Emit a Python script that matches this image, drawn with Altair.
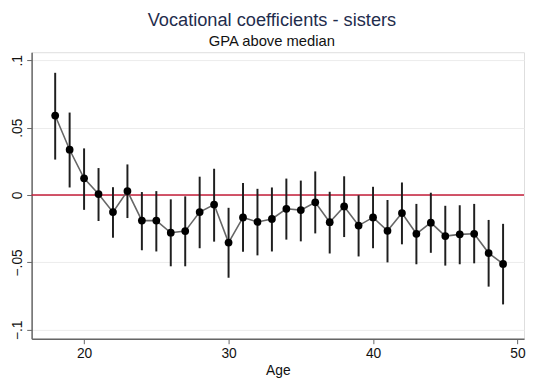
import altair as alt
import pandas as pd

age = list(range(18, 50))
coef = [0.059, 0.0336, 0.0124, 0.0007, -0.0127, 0.0029, -0.019, -0.019, -0.028, -0.0268,
        -0.0127, -0.0071, -0.0353, -0.0166, -0.020, -0.0178, -0.0102, -0.0112, -0.0054, -0.0202,
        -0.0085, -0.0227, -0.0166, -0.0266, -0.0134, -0.0288, -0.0205, -0.0305, -0.0292, -0.0288,
        -0.0431, -0.0512]
ci_hi = [0.0907, 0.0612, 0.0346, 0.0200, 0.0058, 0.0227, 0.0022, 0.0029, -0.0032, -0.0010,
         0.0136, 0.0195, -0.0095, 0.0090, 0.0046, 0.0056, 0.0122, 0.0107, 0.0175, 0.0024,
         0.0139, -0.0002, 0.0061, -0.0037, 0.0093, -0.0066, 0.0017, -0.0080, -0.0076, -0.0066,
         -0.0185, -0.0214]
ci_lo = [0.0263, 0.0056, -0.0110, -0.0193, -0.0317, -0.0171, -0.0410, -0.0419, -0.0529, -0.0529,
         -0.0395, -0.0346, -0.0614, -0.0422, -0.0448, -0.0419, -0.0331, -0.0344, -0.0285, -0.0434,
         -0.0312, -0.0456, -0.0395, -0.0500, -0.0366, -0.0514, -0.0429, -0.0524, -0.0514, -0.0507,
         -0.0680, -0.0812]

y_ticks = [-0.1, -0.05, 0, 0.05, 0.1]
x_ticks = [20, 30, 40, 50]

df = pd.DataFrame({"age": age, "coef": coef, "hi": ci_hi, "lo": ci_lo})

FONT = "Liberation Sans"
xs = alt.Scale(domain=[16.37, 50.45], nice=False, zero=False)
ys = alt.Scale(domain=[-0.1067, 0.106], nice=False, zero=False)

xax = alt.Axis(values=x_ticks, title="Age", grid=False, tickSize=5, labelPadding=3,
               labelFontSize=14, titleFontSize=14, titleFontWeight="normal",
               labelFont=FONT, titleFont=FONT, labelColor="#111", titleColor="#111",
               domainColor="#666", tickColor="#666", domainWidth=1.5, titlePadding=3,
               labelFlush=False, labelOverlap=False)
yax = alt.Axis(values=y_ticks, title=None, grid=True, gridColor="#ececec", gridWidth=1,
               tickSize=5, labelAngle=270, labelAlign="center", labelBaseline="bottom",
               labelPadding=2, labelFontSize=14, labelFont=FONT, labelColor="#111",
               domainColor="#666", tickColor="#666", domainWidth=1.5,
               labelExpr="datum.value == 0 ? '0' : replace(format(datum.value, '.2~f'), '0.', '.')")

base = alt.Chart(df)

zero = alt.Chart(pd.DataFrame({"z": [0]})).mark_rule(color="#c41e3a", strokeWidth=1.6).encode(
    y=alt.Y("z:Q", scale=ys, axis=yax)
)

bars = base.mark_rule(color="#1f1f1f", strokeWidth=2).encode(
    x=alt.X("age:Q", scale=xs, axis=xax),
    y=alt.Y("lo:Q", scale=ys, axis=yax),
    y2="hi:Q",
)

line = base.mark_line(color="#666666", strokeWidth=1.6).encode(
    x=alt.X("age:Q", scale=xs, axis=xax),
    y=alt.Y("coef:Q", scale=ys, axis=yax),
)

pts = base.mark_point(filled=True, color="black", opacity=1, size=62).encode(
    x=alt.X("age:Q", scale=xs, axis=xax),
    y=alt.Y("coef:Q", scale=ys, axis=yax),
)

chart = alt.layer(zero, bars, line, pts).properties(
    width=500, height=291,
    title=alt.TitleParams(
        text="Vocational coefficients - sisters",
        subtitle="GPA above median",
        anchor="middle", dx=-6, offset=3,
        font=FONT, fontSize=18.5, fontWeight="normal", color="#1f2d4d",
        subtitleFont=FONT, subtitleFontSize=15, subtitleColor="#111", subtitlePadding=5,
    ),
    autosize=alt.AutoSizeParams(type="none"),
    padding={"left": 24, "top": 42, "right": 2, "bottom": 40},
).configure_view(stroke=None).configure(background="white")

chart.save("out.html", embed_options={"renderer": "svg", "actions": False})
